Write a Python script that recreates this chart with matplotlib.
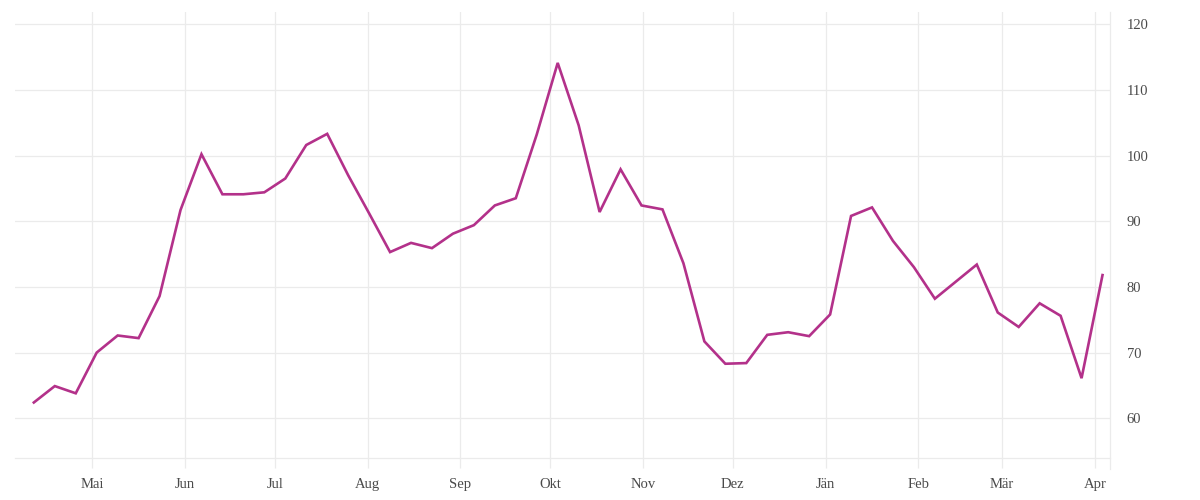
import matplotlib
matplotlib.use('Agg')
import matplotlib.pyplot as plt
import pandas as pd

# weekly index values
dates = pd.date_range('2022-04-11 12:00', periods=52, freq='7D')
values = [
    62.4, 64.9, 63.8, 70.0, 72.6, 72.2, 78.6, 91.7, 100.2, 94.1,
    94.1, 94.4, 96.5, 101.6, 103.3, 97.0, 91.2, 85.3, 86.7, 85.9,
    88.1, 89.4, 92.4, 93.5, 103.2, 114.1, 104.6, 91.4, 97.9, 92.4,
    91.8, 83.6, 71.7, 68.3, 68.4, 72.7, 73.1, 72.5, 75.8, 90.8,
    92.1, 87.0, 83.0, 78.2, 80.8, 83.4, 76.1, 73.9, 77.5, 75.6,
    66.1, 81.8,
]

month_ticks = pd.date_range('2022-05-01', periods=12, freq='MS')
month_labels = ['Mai', 'Jun', 'Jul', 'Aug', 'Sep', 'Okt', 'Nov', 'Dez',
                'Jän', 'Feb', 'Mär', 'Apr']
y_ticks = [60, 70, 80, 90, 100, 110, 120]

grid_col = '#ebebeb'
text_col = '#4a4a4a'

plt.rcParams['font.family'] = ['Liberation Serif', 'DejaVu Serif']

fig = plt.figure(figsize=(12, 5), dpi=100)
ax = fig.add_axes([0.0125, 0.084, 0.9125, 0.892])

ax.plot(dates, values, color='#b3318a', linewidth=1.9, solid_joinstyle='miter')

x_left = pd.Timestamp('2022-04-05 05:00')
x_right = pd.Timestamp('2023-04-06')
ax.set_xlim(x_left, x_right)
ax.set_ylim(53.95, 121.85)

ax.set_xticks(month_ticks)
ax.set_xticklabels(month_labels)
ax.set_yticks(y_ticks)
ax.yaxis.tick_right()

ax.grid(True, color=grid_col, linewidth=0.9)
ax.set_axisbelow(True)

for side in ['top', 'left', 'right']:
    ax.spines[side].set_visible(False)
ax.spines['bottom'].set_color(grid_col)
ax.spines['bottom'].set_linewidth(0.9)
# right-hand axis line runs a little below the plot, like the ticks
ax.axvline(x_right, ymin=-0.024, ymax=1, color=grid_col, linewidth=0.9, clip_on=False)

ax.tick_params(axis='x', length=7.5, width=0.9, color=grid_col,
               labelcolor=text_col, labelsize=10.5, pad=7)
ax.tick_params(axis='y', length=0, labelcolor=text_col, labelsize=10.5, pad=12)

fig.savefig('out.png', dpi=100, facecolor='white')
